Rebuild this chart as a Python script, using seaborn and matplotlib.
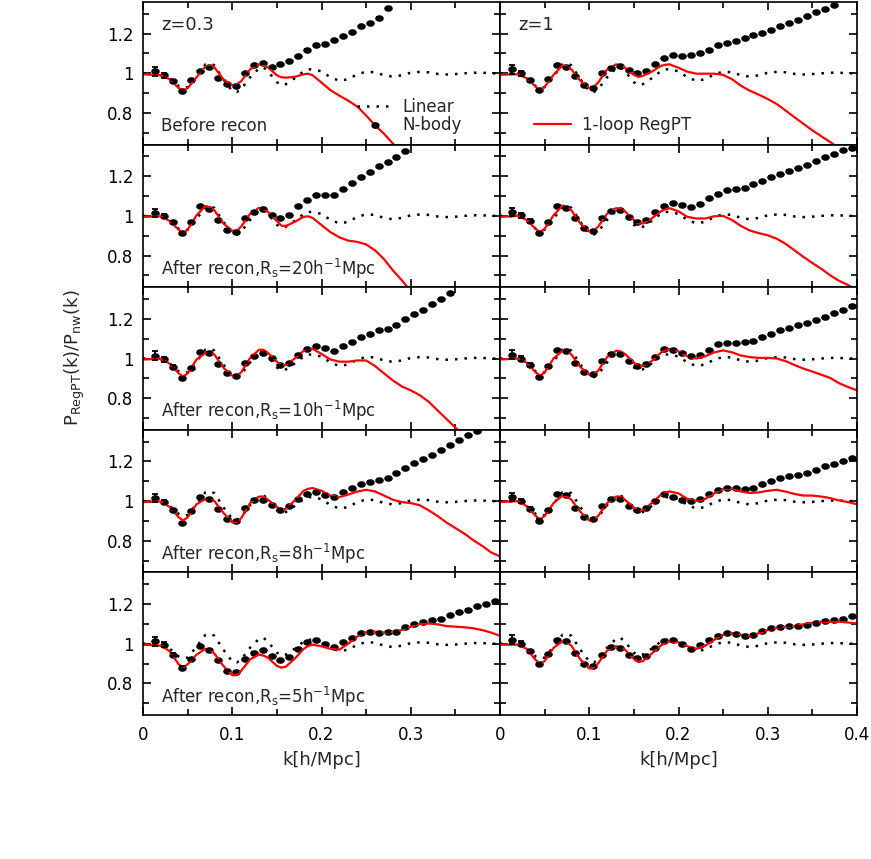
import numpy as np
import seaborn as sns
import matplotlib.pyplot as plt
from matplotlib.path import Path
from matplotlib.lines import Line2D

nan = np.nan

# k grids [h/Mpc]
k_line = [0, 0.02, 0.03, 0.04, 0.045, 0.05, 0.06, 0.07, 0.075, 0.08, 0.09, 0.1, 0.105, 0.11,
          0.12, 0.13, 0.135, 0.14, 0.15, 0.155, 0.16, 0.17, 0.18, 0.185, 0.19, 0.2,
          0.21, 0.22, 0.23, 0.24, 0.25, 0.26, 0.27, 0.28, 0.29, 0.3, 0.31, 0.32, 0.33, 0.34,
          0.35, 0.36, 0.37, 0.38, 0.39, 0.4]
k_nbody = [0.014, 0.024, 0.034, 0.044, 0.054, 0.064, 0.074, 0.084, 0.094, 0.104, 0.114, 0.124,
           0.134, 0.144, 0.154, 0.164, 0.174, 0.184, 0.194, 0.204, 0.214, 0.224, 0.234, 0.244,
           0.254, 0.264, 0.274, 0.284, 0.294, 0.304, 0.314, 0.324, 0.334, 0.344, 0.354, 0.364,
           0.374, 0.384, 0.394]
nbody_err = [0.022, 0.012, 0.008, 0.006, 0.005, 0.004, 0.004, 0.003, 0.003, 0.003, 0.003, 0.003,
             0.003, 0.002, 0.002, 0.002, 0.002, 0.002, 0.002, 0.002, 0.002, 0.002, 0.002, 0.002,
             0.002, 0.002, 0.002, 0.002, 0.002, 0.002, 0.002, 0.002, 0.002, 0.002, 0.002, 0.002,
             0.002, 0.002, 0.002]

# linear theory (same in every panel)
linear = [1.0, 0.998, 0.975, 0.935, 0.925, 0.93, 0.985, 1.045, 1.05, 1.04, 0.97, 0.91, 0.905, 0.92,
          0.98, 1.025, 1.03, 1.01, 0.955, 0.94, 0.945, 0.975, 1.01, 1.02, 1.02, 1.01,
          0.98, 0.962, 0.97, 0.995, 1.008, 1.005, 0.99, 0.983, 0.99, 1.003, 1.007, 1.005, 0.997, 0.994,
          0.996, 1.0, 1.003, 1.003, 1.0, 1.0]

# 1-loop RegPT, left column z=0.3, right column z=1
regpt_z03 = [
    [0.995, 0.99, 0.97, 0.925, 0.912, 0.925, 0.98, 1.035, 1.04, 1.03, 0.97, 0.94, 0.945, 0.96,
     1.02, 1.045, 1.04, 1.03, 0.99, 0.98, 0.978, 0.982, 0.995, 0.998, 0.99, 0.953,
     0.915, 0.887, 0.862, 0.832, 0.787, 0.737, 0.695, 0.645, 0.6, nan, nan, nan, nan, nan,
     nan, nan, nan, nan, nan, nan],
    [0.995, 0.998, 0.974, 0.93, 0.913, 0.93, 1.003, 1.05, 1.044, 1.028, 0.962, 0.925, 0.925, 0.946,
     1.011, 1.041, 1.036, 1.02, 0.974, 0.951, 0.949, 0.97, 0.995, 0.998, 0.99, 0.954,
     0.918, 0.892, 0.875, 0.869, 0.856, 0.826, 0.782, 0.725, 0.675, 0.62, nan, nan, nan, nan,
     nan, nan, nan, nan, nan, nan],
    [0.995, 0.998, 0.974, 0.925, 0.908, 0.925, 0.995, 1.028, 1.031, 1.02, 0.954, 0.913, 0.913, 0.93,
     1.003, 1.044, 1.044, 1.028, 0.984, 0.967, 0.967, 1.0, 1.039, 1.052, 1.049, 1.023,
     0.995, 0.984, 0.984, 0.99, 0.99, 0.962, 0.925, 0.889, 0.859, 0.839, 0.815, 0.782, 0.738, 0.695,
     0.651, 0.61, nan, nan, nan, nan],
    [0.995, 0.998, 0.97, 0.918, 0.902, 0.918, 0.984, 1.011, 1.011, 1.0, 0.941, 0.892, 0.897, 0.913,
     0.99, 1.023, 1.023, 1.007, 0.97, 0.957, 0.961, 1.003, 1.052, 1.062, 1.066, 1.052,
     1.028, 1.02, 1.033, 1.048, 1.057, 1.049, 1.028, 1.007, 0.995, 0.99, 0.979, 0.954, 0.925, 0.892,
     0.864, 0.836, 0.803, 0.774, 0.741, 0.721],
    [0.995, 0.99, 0.962, 0.896, 0.879, 0.896, 0.945, 0.974, 0.97, 0.95, 0.888, 0.841, 0.841, 0.863,
     0.921, 0.945, 0.94, 0.929, 0.888, 0.879, 0.884, 0.924, 0.974, 0.988, 0.995, 0.987,
     0.974, 0.97, 1.0, 1.036, 1.058, 1.061, 1.056, 1.06, 1.069, 1.086, 1.099, 1.102, 1.098, 1.089,
     1.086, 1.083, 1.078, 1.069, 1.056, 1.04],
]
regpt_z1 = [
    [0.993, 0.995, 0.975, 0.932, 0.915, 0.932, 0.992, 1.04, 1.037, 1.02, 0.962, 0.925, 0.932, 0.953,
     1.02, 1.045, 1.042, 1.028, 0.992, 0.982, 0.987, 1.008, 1.037, 1.043, 1.045, 1.028,
     1.008, 0.998, 0.998, 0.998, 0.992, 0.97, 0.937, 0.912, 0.892, 0.87, 0.845, 0.812, 0.778, 0.745,
     0.712, 0.682, 0.653, 0.62, 0.59, nan],
    [0.995, 1.0, 0.979, 0.934, 0.918, 0.934, 1.003, 1.052, 1.048, 1.028, 0.962, 0.921, 0.925, 0.946,
     1.011, 1.039, 1.036, 1.023, 0.979, 0.962, 0.962, 0.987, 1.023, 1.033, 1.039, 1.023,
     0.995, 0.987, 0.987, 0.998, 1.0, 0.979, 0.949, 0.926, 0.913, 0.902, 0.885, 0.859, 0.826, 0.793,
     0.762, 0.733, 0.7, 0.672, 0.651, 0.625],
    [0.995, 1.0, 0.979, 0.93, 0.913, 0.93, 1.0, 1.039, 1.036, 1.02, 0.957, 0.918, 0.921, 0.938,
     1.007, 1.039, 1.036, 1.023, 0.979, 0.962, 0.962, 0.987, 1.028, 1.042, 1.049, 1.036,
     1.011, 1.0, 1.011, 1.031, 1.041, 1.031, 1.015, 1.007, 1.003, 1.003, 1.0, 0.987, 0.967, 0.949,
     0.934, 0.918, 0.902, 0.875, 0.856, 0.839],
    [0.995, 1.0, 0.974, 0.925, 0.908, 0.925, 0.99, 1.028, 1.023, 1.007, 0.946, 0.902, 0.905, 0.925,
     0.99, 1.023, 1.023, 1.007, 0.967, 0.951, 0.954, 0.99, 1.031, 1.042, 1.049, 1.039,
     1.011, 1.0, 1.011, 1.039, 1.061, 1.061, 1.048, 1.041, 1.044, 1.052, 1.057, 1.048, 1.036, 1.028,
     1.028, 1.023, 1.015, 1.003, 0.995, 0.984],
    [0.995, 0.995, 0.974, 0.917, 0.901, 0.912, 0.979, 1.012, 1.007, 0.99, 0.921, 0.874, 0.879, 0.901,
     0.965, 0.987, 0.983, 0.97, 0.924, 0.907, 0.912, 0.95, 0.99, 1.003, 1.012, 1.007,
     0.987, 0.974, 0.99, 1.02, 1.045, 1.053, 1.045, 1.04, 1.053, 1.069, 1.081, 1.086, 1.089, 1.098,
     1.106, 1.111, 1.111, 1.111, 1.107, 1.102],
]

# N-body measurements
nbody_z03 = [
    [1.01, 0.99, 0.96, 0.91, 0.965, 1.01, 1.03, 0.975, 0.945, 0.937, 1.0, 1.04, 1.05, 1.03, 1.045,
     1.06, 1.087, 1.12, 1.145, 1.15, 1.17, 1.187, 1.208, 1.237, 1.253, 1.28, 1.328,
     nan, nan, nan, nan, nan, nan, nan, nan, nan, nan, nan, nan],
    [1.015, 1.0, 0.967, 0.913, 0.967, 1.048, 1.033, 0.979, 0.93, 0.921, 0.987, 1.02, 1.036, 1.003,
     0.987, 1.007, 1.048, 1.08, 1.105, 1.105, 1.105, 1.134, 1.167, 1.197, 1.22, 1.25, 1.27, 1.298,
     1.326, nan, nan, nan, nan, nan, nan, nan, nan, nan, nan],
    [1.015, 0.995, 0.957, 0.902, 0.954, 1.033, 1.028, 0.974, 0.925, 0.913, 0.979, 1.011, 1.028, 1.003,
     0.967, 0.979, 1.02, 1.049, 1.061, 1.052, 1.036, 1.061, 1.085, 1.11, 1.126, 1.143, 1.151, 1.167,
     1.197, 1.225, 1.246, 1.274, 1.302, 1.331, nan, nan, nan, nan, nan],
    [1.015, 0.995, 0.954, 0.889, 0.951, 1.02, 1.011, 0.962, 0.908, 0.902, 0.967, 1.007, 1.007, 0.979,
     0.957, 0.974, 1.011, 1.036, 1.048, 1.033, 1.02, 1.044, 1.064, 1.085, 1.098, 1.105, 1.115, 1.143,
     1.167, 1.192, 1.213, 1.233, 1.257, 1.282, 1.307, 1.334, 1.352, nan, nan],
    [1.012, 0.995, 0.945, 0.879, 0.921, 0.987, 0.97, 0.917, 0.863, 0.858, 0.921, 0.954, 0.967, 0.937,
     0.917, 0.934, 0.974, 1.007, 1.017, 1.0, 0.983, 1.007, 1.028, 1.053, 1.061, 1.056, 1.061, 1.061,
     1.083, 1.099, 1.111, 1.119, 1.127, 1.144, 1.16, 1.172, 1.188, 1.202, 1.215],
]
nbody_z1 = [
    [1.02, 1.0, 0.965, 0.915, 0.97, 1.04, 1.03, 0.987, 0.94, 0.928, 1.003, 1.028, 1.037, 1.015,
     1.003, 1.012, 1.045, 1.075, 1.09, 1.087, 1.092, 1.103, 1.12, 1.142, 1.153, 1.165, 1.178, 1.195,
     1.203, 1.22, 1.237, 1.253, 1.27, 1.287, 1.312, 1.325, 1.345, nan, nan],
    [1.02, 1.003, 0.974, 0.913, 0.97, 1.049, 1.039, 0.987, 0.938, 0.925, 0.99, 1.023, 1.028, 0.995,
     0.97, 0.979, 1.02, 1.052, 1.066, 1.056, 1.044, 1.061, 1.089, 1.113, 1.13, 1.138, 1.143, 1.159,
     1.175, 1.197, 1.213, 1.228, 1.241, 1.257, 1.277, 1.295, 1.311, 1.331, 1.343],
    [1.02, 1.0, 0.967, 0.908, 0.962, 1.041, 1.036, 0.979, 0.93, 0.921, 0.987, 1.023, 1.025, 0.987,
     0.962, 0.974, 1.008, 1.048, 1.044, 1.028, 1.011, 1.02, 1.044, 1.072, 1.08, 1.08, 1.082, 1.09,
     1.11, 1.126, 1.143, 1.154, 1.167, 1.179, 1.195, 1.211, 1.23, 1.246, 1.266],
    [1.02, 1.0, 0.962, 0.902, 0.957, 1.036, 1.033, 0.967, 0.918, 0.908, 0.974, 1.011, 1.011, 0.974,
     0.954, 0.967, 1.003, 1.036, 1.023, 1.007, 1.0, 1.011, 1.036, 1.056, 1.066, 1.066, 1.061, 1.066,
     1.085, 1.102, 1.118, 1.126, 1.134, 1.143, 1.159, 1.175, 1.189, 1.2, 1.216],
    [1.02, 1.0, 0.962, 0.896, 0.95, 1.02, 1.012, 0.954, 0.896, 0.888, 0.945, 0.983, 0.979, 0.945,
     0.929, 0.937, 0.979, 1.012, 1.017, 1.0, 0.975, 0.995, 1.02, 1.041, 1.053, 1.05, 1.041, 1.045,
     1.064, 1.078, 1.086, 1.089, 1.089, 1.094, 1.106, 1.116, 1.122, 1.127, 1.139],
]

row_labels = ["Before recon",
              r"After recon,R$_{\rm s}$=20h$^{-1}$Mpc",
              r"After recon,R$_{\rm s}$=10h$^{-1}$Mpc",
              r"After recon,R$_{\rm s}$=8h$^{-1}$Mpc",
              r"After recon,R$_{\rm s}$=5h$^{-1}$Mpc"]
col_labels = ["z=0.3", "z=1"]

sns.set_theme(style="ticks")
plt.rcParams['font.family'] = ['DejaVu Sans']
plt.rcParams['mathtext.fontset'] = 'dejavusans'

# slightly flattened dot used for the N-body points
t = np.linspace(0, 2 * np.pi, 40)
dot = Path(np.column_stack([1.3 * np.cos(t), np.sin(t)]), closed=True)
dotted = (0, (1, 2.8))

fig, axes = plt.subplots(5, 2, figsize=(8.71, 8.59), dpi=100)
fig.subplots_adjust(left=143 / 871, right=857 / 871, top=1 - 2 / 859, bottom=1 - 715 / 859,
                    wspace=0, hspace=0)

for r in range(5):
    for c in range(2):
        ax = axes[r, c]
        red = regpt_z03[r] if c == 0 else regpt_z1[r]
        pts = nbody_z03[r] if c == 0 else nbody_z1[r]

        sns.lineplot(x=k_line, y=linear, ax=ax, color='black', lw=1.8, linestyle=dotted,
                     sort=False, estimator=None)
        sns.lineplot(x=k_line, y=red, ax=ax, color='#ff0000', lw=1.6, sort=False, estimator=None)
        ax.errorbar(k_nbody, pts, yerr=nbody_err, fmt='none', ecolor='black', elinewidth=1.3,
                    capsize=2.5, capthick=1.3)
        sns.scatterplot(x=k_nbody, y=pts, ax=ax, marker=dot, s=38, color='black', linewidth=0)

        ax.set_xlim(0, 0.4)
        ax.set_ylim(0.64, 1.36)
        ax.set_xticks([0, 0.1, 0.2, 0.3, 0.4])
        ax.set_xticks([0.05, 0.15, 0.25, 0.35], minor=True)
        ax.set_yticks([0.8, 1.0, 1.2])
        ax.set_yticks([0.7, 0.9, 1.1, 1.3], minor=True)
        ax.tick_params(which='both', direction='in', top=True, right=True, width=1.2,
                       labelsize=12, colors='black')
        ax.tick_params(which='major', length=6)
        ax.tick_params(which='minor', length=4.5)
        ax.tick_params(axis='x', pad=8)
        ax.tick_params(axis='y', pad=7)
        for s in ax.spines.values():
            s.set_linewidth(1.2)
            s.set_color('black')
        ax.set_xlabel("")
        ax.set_ylabel("")

        if c == 0:
            ax.set_yticklabels(['0.8', '1', '1.2'])
            ax.text(0.05, 0.13, row_labels[r], transform=ax.transAxes, fontsize=12,
                    va='center', ha='left')
        else:
            ax.set_yticklabels([])
        if r == 4:
            if c == 0:
                ax.set_xticklabels(['0', '0.1', '0.2', '0.3', ''])
            else:
                ax.set_xticklabels(['0', '0.1', '0.2', '0.3', '0.4'])
            ax.set_xlabel("k[h/Mpc]", fontsize=13, labelpad=5)
        else:
            ax.set_xticklabels([])
        if r == 0:
            ax.text(0.05, 0.84, col_labels[c], transform=ax.transAxes, fontsize=13,
                    va='center', ha='left')

# legends
h_lin = Line2D([], [], color='black', lw=1.8, linestyle=dotted)
h_nb = Line2D([], [], color='black', marker=dot, markersize=5, linestyle='none')
h_red = Line2D([], [], color='#ff0000', lw=1.6)
axes[0, 0].legend([h_lin, h_nb], ["Linear", "N-body"], loc='upper left',
                  bbox_to_anchor=(0.6, 0.33), frameon=False, fontsize=12, handlelength=2.1,
                  handletextpad=0.6, borderpad=0, borderaxespad=0, labelspacing=0.05)
axes[0, 1].legend([h_red], ["1-loop RegPT"], loc='upper left',
                  bbox_to_anchor=(0.095, 0.2), frameon=False, fontsize=12, handlelength=2.2,
                  handletextpad=0.7, borderpad=0, borderaxespad=0)

fig.text(0.086, 1 - 358 / 859, r"P$_{\rm RegPT}$(k)/P$_{\rm nw}$(k)", rotation=90,
         ha='center', va='center', fontsize=13)

fig.savefig("out.png", dpi=100, facecolor='white')
